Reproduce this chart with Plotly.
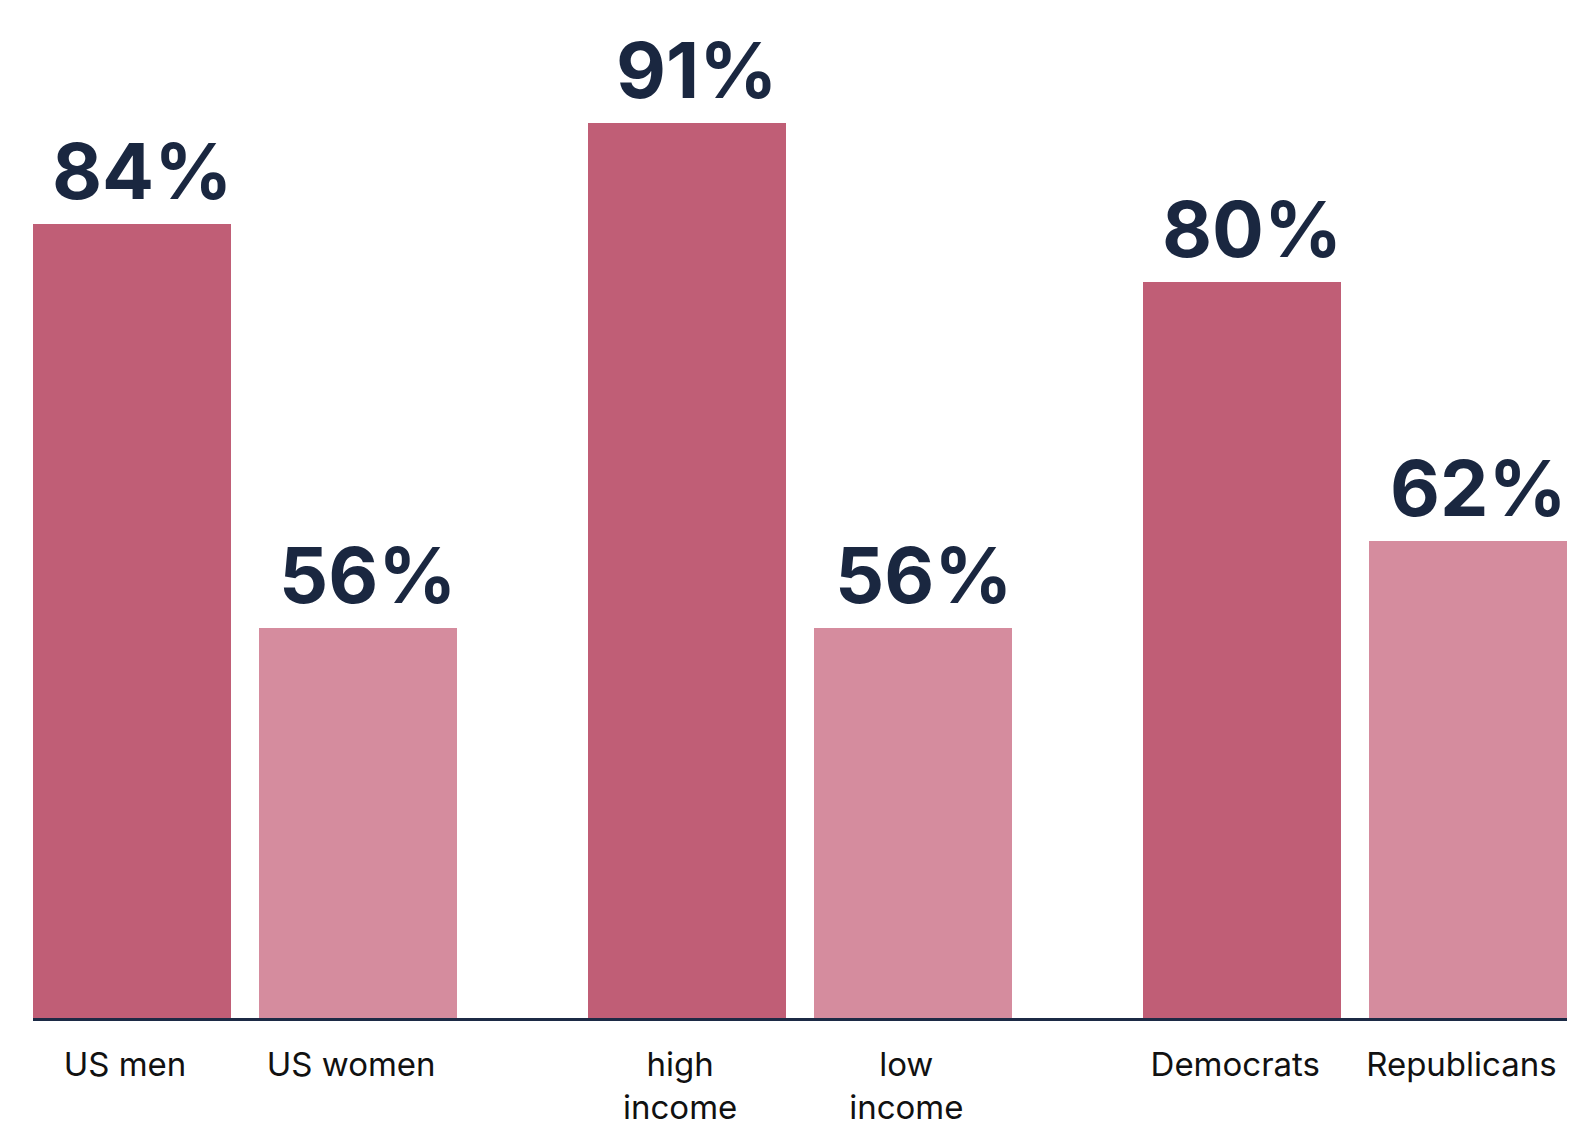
import plotly.graph_objects as go

# Share values (%) for each pair of contrasted groups
primary_labels = ["US men", "high<br>income", "Democrats"]
primary_values = [84, 91, 80]
secondary_labels = ["US women", "low<br>income", "Republicans"]
secondary_values = [56, 56, 62]

PRIMARY_COLOR = "#c05e76"
SECONDARY_COLOR = "#d58c9e"
LABEL_COLOR = "#1a2740"

# Layout of the bars along a numeric axis: pairs separated by a wider gap
GROUP_STEP = 2.455
BAR_WIDTH = 0.874
TICK_NUDGE = -0.03

group_centers = [i * GROUP_STEP for i in range(len(primary_values))]
primary_x = [c - 0.5 for c in group_centers]
secondary_x = [c + 0.5 for c in group_centers]

fig = go.Figure()

for xs, vals, color in [
    (primary_x, primary_values, PRIMARY_COLOR),
    (secondary_x, secondary_values, SECONDARY_COLOR),
]:
    fig.add_trace(
        go.Bar(
            x=xs,
            y=vals,
            width=BAR_WIDTH,
            marker=dict(color=color, line=dict(width=0)),
            hoverinfo="skip",
        )
    )
    # value labels sitting just above each bar
    for x, v in zip(xs, vals):
        fig.add_annotation(
            x=x,
            y=v,
            text=f"{v}%",
            showarrow=False,
            xanchor="center",
            yanchor="bottom",
            xshift=10,
            yshift=4,
            font=dict(family="Inter", size=77, color=LABEL_COLOR, weight=700),
        )

tick_vals = []
tick_text = []
for px, pl, sx, sl in zip(primary_x, primary_labels, secondary_x, secondary_labels):
    tick_vals += [px + TICK_NUDGE, sx + TICK_NUDGE]
    tick_text += [pl, sl]

fig.update_layout(
    width=1578,
    height=1130,
    margin=dict(l=33, r=11, t=0, b=112),
    paper_bgcolor="white",
    plot_bgcolor="white",
    showlegend=False,
    bargap=0,
    xaxis=dict(
        range=[primary_x[0] - BAR_WIDTH / 2, secondary_x[-1] + BAR_WIDTH / 2],
        tickvals=tick_vals,
        ticktext=tick_text,
        tickfont=dict(family="Inter", size=33, color="#111111"),
        ticks="",
        ticklabelstandoff=16,
        automargin=False,
        showgrid=False,
        zeroline=False,
        showline=True,
        linecolor="#1c2a45",
        linewidth=2.5,
    ),
    yaxis=dict(
        range=[29, 29 + 1018 / 14.44],
        visible=False,
        showgrid=False,
        zeroline=False,
        automargin=False,
    ),
)

fig.write_html("out.html")
